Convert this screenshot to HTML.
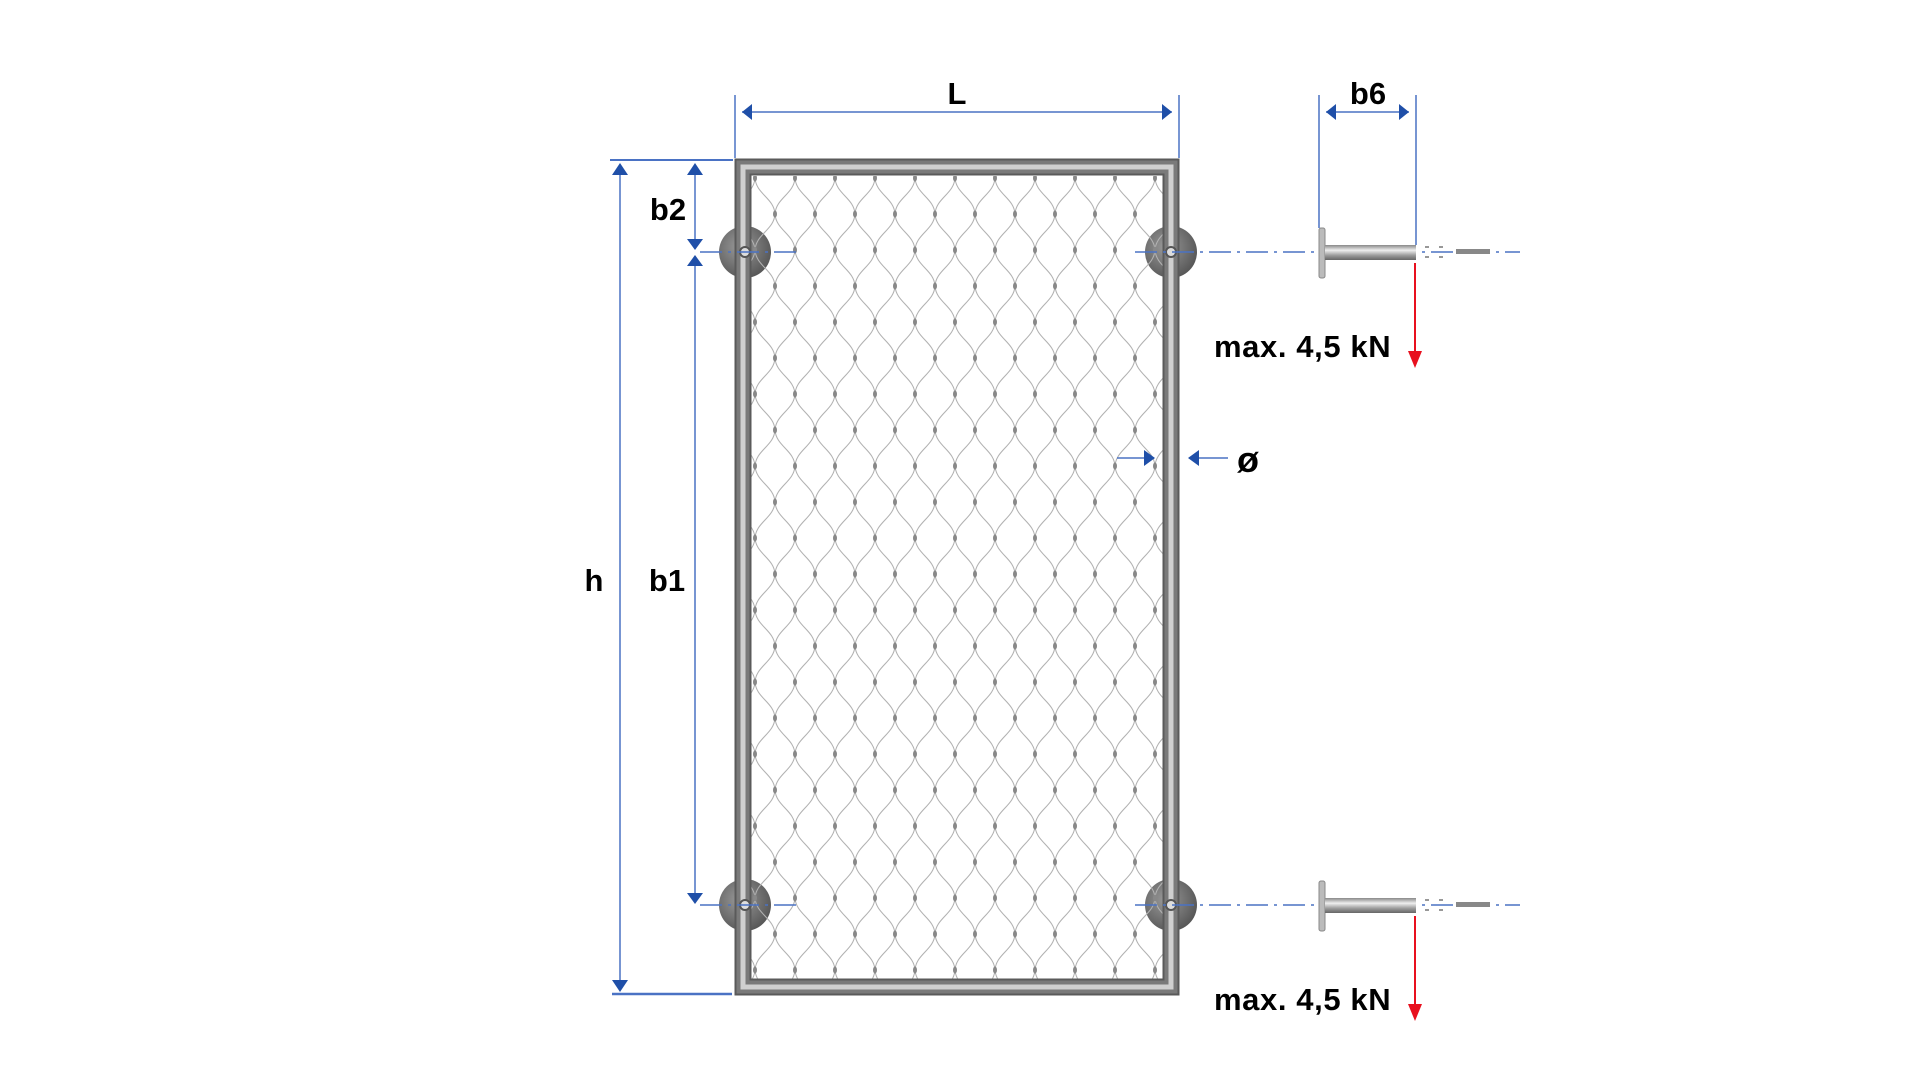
<!DOCTYPE html>
<html><head><meta charset="utf-8"><style>
html,body{margin:0;padding:0;background:#fff;width:1920px;height:1080px;overflow:hidden}
svg{display:block}
text{font-family:"Liberation Sans",Arial,sans-serif;font-weight:bold;fill:#000}
</style></head><body>
<svg width="1920" height="1080" viewBox="0 0 1920 1080" xmlns="http://www.w3.org/2000/svg">
<defs>
<pattern id="mesh" x="755" y="178" width="40" height="72" patternUnits="userSpaceOnUse">
<path d="M0,0 C1,16 19,20 20,36 C19,52 1,56 0,72" fill="none" stroke="#b2b2b2" stroke-width="1.1"/>
<path d="M40,0 C39,16 21,20 20,36 C21,52 39,56 40,72" fill="none" stroke="#b2b2b2" stroke-width="1.1"/>
<ellipse cx="20" cy="36" rx="2" ry="3.5" fill="#888"/>
<ellipse cx="0" cy="0" rx="2" ry="3.5" fill="#888"/>
<ellipse cx="40" cy="0" rx="2" ry="3.5" fill="#888"/>
<ellipse cx="0" cy="72" rx="2" ry="3.5" fill="#888"/>
<ellipse cx="40" cy="72" rx="2" ry="3.5" fill="#888"/>
</pattern>
<radialGradient id="disc" cx="0.4" cy="0.4" r="0.7"><stop offset="0" stop-color="#9a9a9a"/><stop offset="1" stop-color="#505050"/></radialGradient>
<linearGradient id="shaft" x1="0" y1="0" x2="0" y2="1"><stop offset="0" stop-color="#888"/><stop offset="0.35" stop-color="#eee"/><stop offset="0.7" stop-color="#999"/><stop offset="1" stop-color="#666"/></linearGradient>
</defs>

<circle cx="745" cy="252" r="26" fill="url(#disc)"/>
<circle cx="1171" cy="252" r="26" fill="url(#disc)"/>
<circle cx="745" cy="905" r="26" fill="url(#disc)"/>
<circle cx="1171" cy="905" r="26" fill="url(#disc)"/>

<rect x="750" y="176" width="416" height="806" fill="url(#mesh)"/>

<rect x="743" y="167" width="428" height="820" fill="none" stroke="#7a7a7a" stroke-width="15"/>
<rect x="743" y="167" width="428" height="820" fill="none" stroke="#d0d0d0" stroke-width="5"/>
<rect x="735.5" y="159.5" width="443" height="835" fill="none" stroke="#5a5a5a" stroke-width="2"/>
<rect x="750.5" y="174.5" width="413" height="805" fill="none" stroke="#5a5a5a" stroke-width="2"/>

<circle cx="745" cy="252" r="5" fill="#ddd" stroke="#555" stroke-width="2"/>
<circle cx="1171" cy="252" r="5" fill="#ddd" stroke="#555" stroke-width="2"/>
<circle cx="745" cy="905" r="5" fill="#ddd" stroke="#555" stroke-width="2"/>
<circle cx="1171" cy="905" r="5" fill="#ddd" stroke="#555" stroke-width="2"/>

<g stroke="#4a72c4" stroke-width="1.5" stroke-dasharray="22,6,3,6" fill="none">
<line x1="700" y1="252" x2="800" y2="252"/>
<line x1="1135" y1="252" x2="1520" y2="252"/>
<line x1="700" y1="905" x2="800" y2="905"/>
<line x1="1135" y1="905" x2="1520" y2="905"/>
</g>

<g>
<rect x="1319" y="228" width="6" height="50" rx="2" fill="#bbb" stroke="#888"/>
<rect x="1325" y="245" width="91" height="15" fill="url(#shaft)"/>
<rect x="1425" y="247" width="18" height="10" fill="none" stroke="#777" stroke-width="1.5" stroke-dasharray="4,10"/>
<rect x="1456" y="249" width="34" height="5" fill="#888"/>
<rect x="1319" y="881" width="6" height="50" rx="2" fill="#bbb" stroke="#888"/>
<rect x="1325" y="898" width="91" height="15" fill="url(#shaft)"/>
<rect x="1425" y="900" width="18" height="10" fill="none" stroke="#777" stroke-width="1.5" stroke-dasharray="4,10"/>
<rect x="1456" y="902" width="34" height="5" fill="#888"/>
</g>

<g stroke="#4a72c4" stroke-width="1.5" fill="none">
<line x1="735" y1="95" x2="735" y2="158"/>
<line x1="1179" y1="95" x2="1179" y2="158"/>
<line x1="742" y1="112" x2="1172" y2="112"/>
<line x1="1319" y1="95" x2="1319" y2="228"/>
<line x1="1416" y1="95" x2="1416" y2="245"/>
<line x1="1326" y1="112" x2="1409" y2="112"/>
<line x1="610" y1="160" x2="733" y2="160" stroke-width="2"/>
<line x1="612" y1="994" x2="732" y2="994" stroke-width="2.5"/>
<line x1="620" y1="168" x2="620" y2="986"/>
<line x1="695" y1="168" x2="695" y2="244"/>
<line x1="695" y1="260" x2="695" y2="897"/>
<line x1="1117" y1="458" x2="1150" y2="458"/>
<line x1="1195" y1="458" x2="1228" y2="458"/>
</g>
<g fill="#1f4fa8">
<polygon points="742,112 752,104 752,120"/>
<polygon points="1172,112 1162,104 1162,120"/>
<polygon points="1326,112 1336,104 1336,120"/>
<polygon points="1409,112 1399,104 1399,120"/>
<polygon points="620,163 612,175 628,175"/>
<polygon points="620,992 612,980 628,980"/>
<polygon points="695,163 687,175 703,175"/>
<polygon points="695,250 687,239 703,239"/>
<polygon points="695,255 687,266 703,266"/>
<polygon points="695,904 687,893 703,893"/>
<polygon points="1155,458 1144,450 1144,466"/>
<polygon points="1188,458 1199,450 1199,466"/>
</g>

<g stroke="#e8101e" stroke-width="2">
<line x1="1415" y1="263" x2="1415" y2="358"/>
<line x1="1415" y1="916" x2="1415" y2="1011"/>
</g>
<g fill="#e8101e">
<polygon points="1408,351 1422,351 1415,368"/>
<polygon points="1408,1004 1422,1004 1415,1021"/>
</g>

<text x="957" y="104" font-size="31" text-anchor="middle">L</text>
<text x="1368" y="104" font-size="31" text-anchor="middle">b6</text>
<text x="668" y="220" font-size="31" text-anchor="middle">b2</text>
<text x="667" y="591" font-size="31" text-anchor="middle">b1</text>
<text x="594" y="591" font-size="31" text-anchor="middle">h</text>
<text x="1248" y="472" font-size="36" text-anchor="middle">ø</text>
<text x="1214" y="357" font-size="31" letter-spacing="0.6">max. 4,5 kN</text>
<text x="1214" y="1010" font-size="31" letter-spacing="0.6">max. 4,5 kN</text>
</svg>
</body></html>
